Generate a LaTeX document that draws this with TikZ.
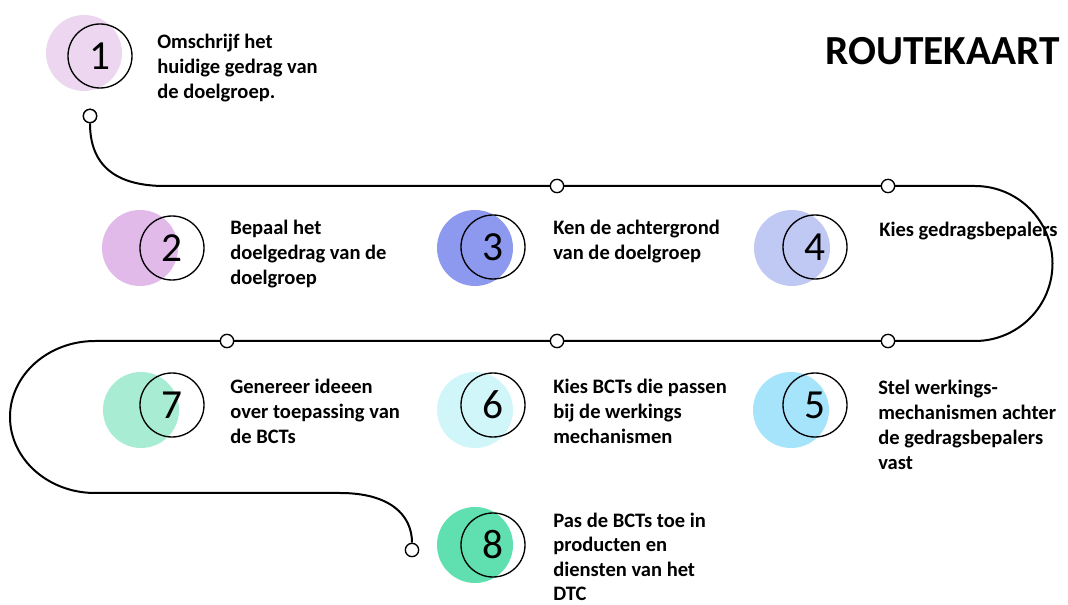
\documentclass[tikz,border=0pt]{standalone}
\usepackage{fontspec}
\setmainfont{Carlito}
\definecolor{cA}{RGB}{236,214,240}
\definecolor{cB}{RGB}{226,186,234}
\definecolor{cC}{RGB}{140,153,238}
\definecolor{cD}{RGB}{192,200,244}
\definecolor{cE}{RGB}{166,228,252}
\definecolor{cF}{RGB}{208,246,250}
\definecolor{cG}{RGB}{168,236,212}
\definecolor{cH}{RGB}{96,224,176}
\begin{document}
\begin{tikzpicture}[x=0.75pt,y=-0.75pt,
  blob/.style={circle,inner sep=0pt,minimum size=57pt,draw=none},
  ring/.style={circle,inner sep=0pt,minimum size=48pt,draw=black,line width=1pt,font=\fontsize{31}{34}\selectfont},
  lbl/.style={anchor=north west,inner sep=0pt,align=left,font=\fontsize{15.4}{18.6}\selectfont\bfseries},
  route/.style={draw=black,line width=1.5pt},
  dot/.style={circle,draw=black,fill=white,line width=1pt,inner sep=0pt,minimum size=10pt}]
\useasboundingbox (0,0) rectangle (1068,605);
% path
\node[dot] (d1) at (90,116) {};
\node[dot] (d8) at (412,550) {};
\draw[route] (d1.south) .. controls (90,165) and (115,186) .. (165,186) -- (975,186)
  arc[start angle=-90,end angle=90,radius=77.5] -- (95,341)
  arc[start angle=270,end angle=90,x radius=85,y radius=76] -- (340,493)
  .. controls (390,493) and (412,515) .. (d8.north);
\node[dot] (d2) at (557,186) {};
\node[dot] (d3) at (888,186) {};
\node[dot] (d4) at (227,341) {};
\node[dot] (d5) at (557,341) {};
\node[dot] (d6) at (888,341) {};
\node[dot] at (90,116) {};
% title
\node[anchor=base east,inner sep=0pt,font=\fontsize{31}{34}\selectfont\bfseries] (title) at (1060,65) {ROUTEKAART};
% step 1
\node[blob,fill=cA] (b1) at (84,53) {};
\node[ring] (r1) at (100,56) {1};
\node[lbl] (t1) at (157,34) {Omschrijf het\\huidige gedrag van\\de doelgroep.};
% step 2
\node[blob,fill=cB] (b2) at (140,248) {};
\node[ring] (r2) at (172,248) {2};
\node[lbl] (t2) at (230,220) {Bepaal het\\doelgedrag van de\\doelgroep};
% step 3
\node[blob,fill=cC] (b3) at (475,248) {};
\node[ring] (r3) at (493,247) {3};
\node[lbl] (t3) at (553,220) {Ken de achtergrond\\van de doelgroep};
% step 4
\node[blob,fill=cD] (b4) at (792,248) {};
\node[ring] (r4) at (815,247) {4};
\node[lbl] (t4) at (879,222) {Kies gedragsbepalers};
% step 5
\node[blob,fill=cE] (b5) at (791,410) {};
\node[ring] (r5) at (815,405) {5};
\node[lbl] (t5) at (878,380) {Stel werkings-\\mechanismen achter\\de gedragsbepalers\\vast};
% step 6
\node[blob,fill=cF] (b6) at (475,410) {};
\node[ring] (r6) at (493,405) {6};
\node[lbl] (t6) at (553,379) {Kies BCTs die passen\\bij de werkings\\mechanismen};
% step 7
\node[blob,fill=cG] (b7) at (141,410) {};
\node[ring] (r7) at (172,405) {7};
\node[lbl] (t7) at (230,379) {Genereer ideeen\\over toepassing van\\de BCTs};
% step 8
\node[blob,fill=cH] (b8) at (475,545) {};
\node[ring] (r8) at (493,545) {8};
\node[lbl,font=\fontsize{15.4}{18.2}\selectfont\bfseries] (t8) at (553,513) {Pas de BCTs toe in\\producten en\\diensten van het\\DTC};
\end{tikzpicture}
\end{document}
